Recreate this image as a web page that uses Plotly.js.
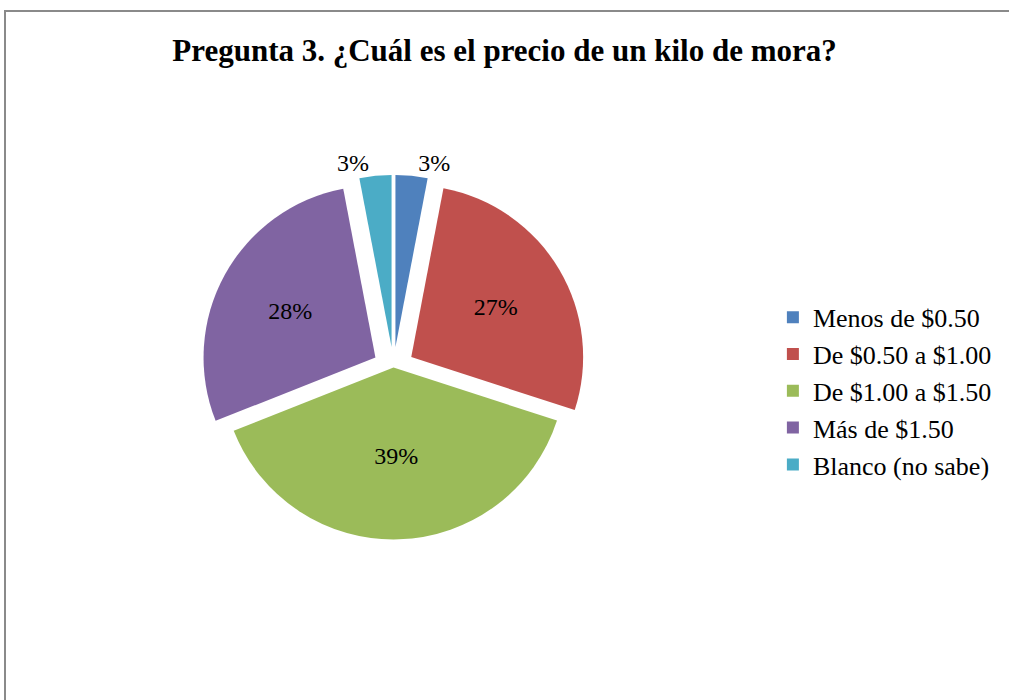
<!DOCTYPE html>
<html>
<head>
<meta charset="utf-8">
<script src="https://cdn.plot.ly/plotly-3.0.1.min.js"></script>
<style>
html,body{margin:0;padding:0;overflow:hidden;background:#fff;}
#chart{position:absolute;left:0;top:0;width:1009px;height:700px;}
#frame{position:absolute;left:4px;top:10px;width:1100px;height:800px;border-top:2px solid #8a8a8a;border-left:2px solid #8a8a8a;pointer-events:none;}
</style>
</head>
<body>
<div id="chart"></div>
<div id="frame"></div>
<script>
var categories = ["Menos de $0.50", "De $0.50 a $1.00", "De $1.00 a $1.50", "Más de $1.50", "Blanco (no sabe)"];
var values = [3, 27, 39, 28, 3];
var colors = ["#4F81BD", "#C0504D", "#9BBB59", "#8064A2", "#4BACC6"];
var pulls = [0.12, 0.12, 0, 0.12, 0.12];
var textPositions = ["outside", "inside", "inside", "inside", "outside"];

var serif = "Liberation Serif, Times New Roman, serif";

var trace = {
  type: "pie",
  labels: categories,
  values: values,
  sort: false,
  direction: "clockwise",
  rotation: 0,
  pull: pulls,
  marker: {colors: colors, line: {width: 0}},
  textinfo: "percent",
  texttemplate: "%{percent:.0%}",
  textposition: textPositions,
  insidetextorientation: "horizontal",
  textfont: {family: serif, size: 24, color: "#000"},
  domain: {x: [0.19, 0.59], y: [0.2, 0.75]},
  hoverinfo: "label+percent"
};

var layout = {
  width: 1009,
  height: 700,
  margin: {l: 0, r: 0, t: 0, b: 0},
  paper_bgcolor: "#fff",
  font: {family: serif, color: "#000"},
  showlegend: true,
  title: {
    text: "<b>Pregunta 3. ¿Cuál es el precio de un kilo de mora?</b>",
    x: 0.5, xanchor: "center",
    y: 0.928, yref: "container", yanchor: "middle",
    font: {family: serif, size: 31, color: "#000"}
  },
  legend: {
    x: 0.766, xanchor: "left",
    y: 0.441, yanchor: "middle",
    font: {family: serif, size: 26, color: "#000"},
    bgcolor: "rgba(0,0,0,0)",
    traceorder: "normal"
  }
};

Plotly.newPlot("chart", [trace], layout, {displayModeBar: false, staticPlot: true});
</script>
</body>
</html>
